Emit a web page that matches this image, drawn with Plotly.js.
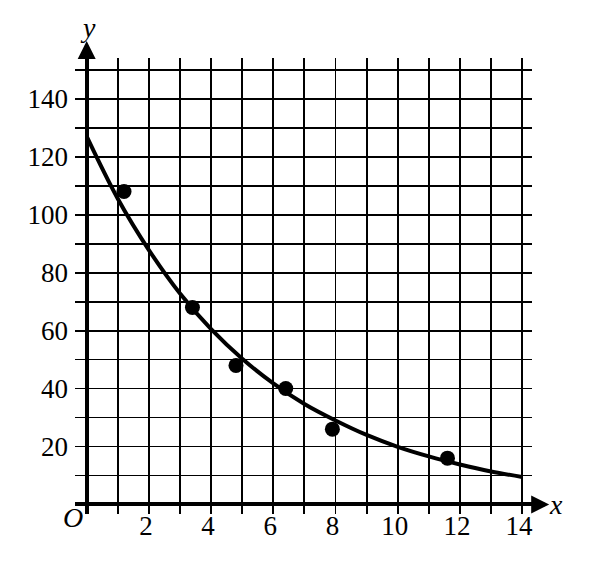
<!DOCTYPE html>
<html>
<head>
<meta charset="utf-8">
<script src="https://cdn.plot.ly/plotly-3.0.1.min.js"></script>
<style>html,body{margin:0;padding:0;background:#fff;}#chart{width:608px;height:566px;}</style>
</head>
<body>
<div id="chart"></div>
<script>
// Data points (scatter)
var pointX = [1.2, 3.4, 4.8, 6.4, 7.9, 11.6];
var pointY = [108, 68, 48, 40, 26, 16];
// Curve at integer x
var curveX = [0, 1, 2, 3, 4, 5, 6, 7, 8, 9, 10, 11, 12, 13, 14];
var curveY = [127, 105.5, 87.8, 72.8, 60.5, 50.3, 41.8, 34.7, 29, 24, 19.9, 16.6, 13.8, 11.4, 9.5];
// Tick labels
var xTickVals = [0,1,2,3,4,5,6,7,8,9,10,11,12,13,14];
var xTickText = ['', '', '2', '', '4', '', '6', '', '8', '', '10', '', '12', '', '14'];
var yTickVals = [0,10,20,30,40,50,60,70,80,90,100,110,120,130,140,150];
var yTickText = ['', '', '20', '', '40', '', '60', '', '80', '', '100', '', '120', '', '140', ''];

var serif = 'Liberation Serif, Times New Roman, serif';

var traces = [
  {x: curveX, y: curveY, mode: 'lines', type: 'scatter',
   line: {color: '#000', width: 4, shape: 'spline'}, hoverinfo: 'skip'},
  {x: pointX, y: pointY, mode: 'markers', type: 'scatter',
   marker: {color: '#000', size: 15}, hoverinfo: 'skip'}
];

var layout = {
  width: 608, height: 566,
  margin: {l: 75, r: 76, t: 58, b: 52},
  paper_bgcolor: '#fff', plot_bgcolor: '#fff',
  showlegend: false,
  font: {family: serif, color: '#000', size: 27},
  xaxis: {
    range: [-0.376, 14.318], tickmode: 'array', tickvals: xTickVals, ticktext: xTickText,
    anchor: 'free', position: 0.0154,
    showgrid: true, gridcolor: '#000', gridwidth: 1.8,
    zeroline: true, zerolinecolor: '#000', zerolinewidth: 4,
    showline: false, ticks: '', ticklabelshift: -3,
    tickfont: {family: serif, size: 27, color: '#000'}, fixedrange: true
  },
  yaxis: {
    range: [-3.28, 154.07], tickmode: 'array', tickvals: yTickVals, ticktext: yTickText,
    showgrid: true, gridcolor: '#000', gridwidth: 1.8,
    zeroline: true, zerolinecolor: '#000', zerolinewidth: 4,
    showline: false, ticks: '', ticklabelstandoff: 6,
    tickfont: {family: serif, size: 27, color: '#000'}, fixedrange: true
  },
  annotations: [
    {x: 14.87, y: 0, ax: 14.3, ay: 0, xref: 'x', yref: 'y', axref: 'x', ayref: 'y',
     text: '', showarrow: true, arrowhead: 2, arrowsize: 0.9, arrowwidth: 4, arrowcolor: '#000', standoff: 0},
    {x: 0, y: 159.9, ax: 0, ay: 153.9, xref: 'x', yref: 'y', axref: 'x', ayref: 'y',
     text: '', showarrow: true, arrowhead: 2, arrowsize: 0.9, arrowwidth: 4, arrowcolor: '#000', standoff: 0},
    {x: 1.0525, y: 0.0219, xref: 'paper', yref: 'paper', text: '<i>x</i>', showarrow: false,
     font: {family: serif, size: 28, color: '#000'}, xanchor: 'center', yanchor: 'middle'},
    {x: 0.0285, y: 1.0658, xref: 'paper', yref: 'paper', text: '<i>y</i>', showarrow: false,
     font: {family: serif, size: 28, color: '#000'}, xanchor: 'center', yanchor: 'middle'},
    {x: -0.0044, y: -0.0066, xref: 'paper', yref: 'paper', text: '<i>O</i>', showarrow: false,
     font: {family: serif, size: 28, color: '#000'}, xanchor: 'center', yanchor: 'middle'}
  ]
};

Plotly.newPlot('chart', traces, layout, {displayModeBar: false, staticPlot: true});
</script>
</body>
</html>
